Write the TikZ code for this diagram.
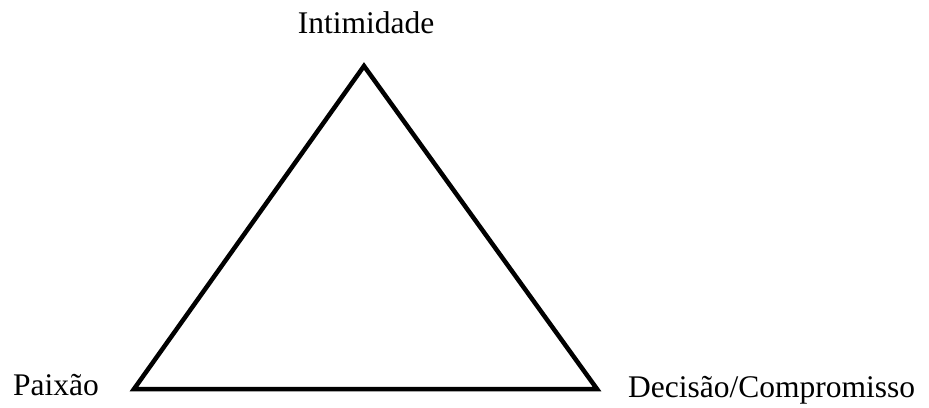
\documentclass[tikz,border=0pt]{standalone}
\usepackage{fontspec}
\setmainfont{Liberation Serif}
\begin{document}
\begin{tikzpicture}[x=1bp,y=-1bp,
  lbl/.style={font=\fontsize{31.5bp}{38bp}\selectfont, inner sep=0pt, anchor=base},
  edge/.style={line width=4.5bp, line join=miter}]
\useasboundingbox (0,0) rectangle (929,407);
\coordinate (top) at (364,66);
\coordinate (left) at (134,389);
\coordinate (right) at (597,389);
\draw[edge] (top) -- (left) -- (right) -- cycle;
\node[lbl] (int) at (366,33) {Intimidade};
\node[lbl, anchor=base west] (pai) at (13,395) {Paixão};
\node[lbl, anchor=base west] (dec) at (628,397) {Decisão/Compromisso};
\end{tikzpicture}
\end{document}
